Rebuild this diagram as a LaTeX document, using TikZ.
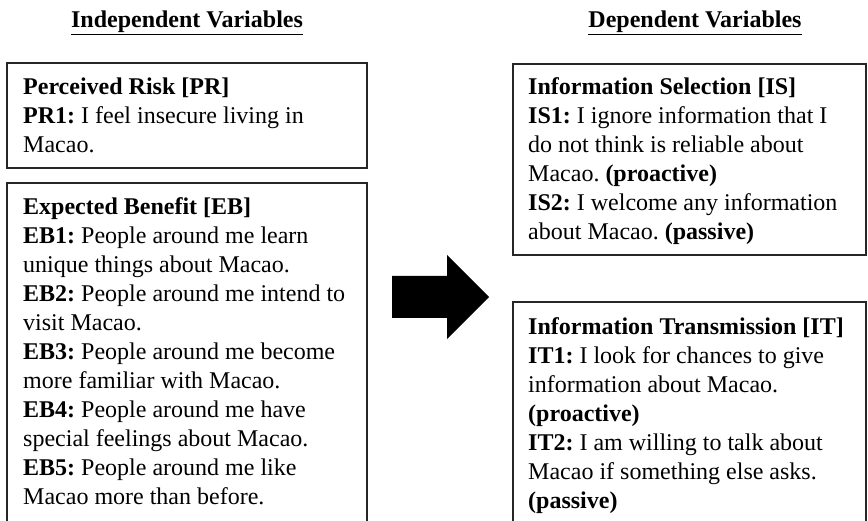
\documentclass[tikz,border=0pt]{standalone}
\usepackage{fontspec}
\setmainfont{Liberation Serif}
\frenchspacing
\begin{document}
\begin{tikzpicture}[x=1pt,y=-1pt,
  box/.style={draw=black!85,line width=1.6pt},
  txt/.style={anchor=base west,inner sep=0pt,font=\fontsize{24}{29}\selectfont},
  ttl/.style={anchor=base,inner sep=0pt,font=\fontsize{24}{29}\selectfont\bfseries}]
\useasboundingbox (0,0) rectangle (868,521);
\clip (0,0) rectangle (868,521);
% titles
\node[ttl] (indep) at (187,28) {\underline{Independent Variables}};
\node[ttl] (dep) at (695,28) {\underline{Dependent Variables}};
% boxes
\draw[box] (7,63) rectangle (367,168);
\draw[box] (7,183) rectangle (367,540);
\draw[box] (513,64) rectangle (866,255);
\draw[box] (513,302) rectangle (866,540);
% texts
\node[txt] (pr) at (23,95) {\parbox[t]{340pt}{\fontsize{24}{29}\selectfont\raggedright
  \textbf{Perceived Risk [PR]}\\
  \textbf{PR1:} I feel insecure living in\\
  Macao.}};
\node[txt] (eb) at (23,215) {\parbox[t]{340pt}{\fontsize{24}{29}\selectfont\raggedright
  \textbf{Expected Benefit [EB]}\\
  \textbf{EB1:} People around me learn\\
  unique things about Macao.\\
  \textbf{EB2:} People around me intend to\\
  visit Macao.\\
  \textbf{EB3:} People around me become\\
  more familiar with Macao.\\
  \textbf{EB4:} People around me have\\
  special feelings about Macao.\\
  \textbf{EB5:} People around me like\\
  Macao more than before.}};
\node[txt] (is) at (528,95) {\parbox[t]{340pt}{\fontsize{24}{29}\selectfont\raggedright
  \textbf{Information Selection [IS]}\\
  \textbf{IS1:} I ignore information that I\\
  do not think is reliable about\\
  Macao. \textbf{(proactive)}\\
  \textbf{IS2:} I welcome any information\\
  about Macao. \textbf{(passive)}}};
\node[txt] (it) at (528,335) {\parbox[t]{340pt}{\fontsize{24}{29}\selectfont\raggedright
  \textbf{Information Transmission [IT]}\\
  \textbf{IT1:} I look for chances to give\\
  information about Macao.\\
  \textbf{(proactive)}\\
  \textbf{IT2:} I am willing to talk about\\
  Macao if something else asks.\\
  \textbf{(passive)}}};
% block arrow
\fill[black] (392,276) -- (447,276) -- (447,255) -- (489,297) -- (447,339) -- (447,318) -- (392,318) -- cycle;
\end{tikzpicture}
\end{document}
